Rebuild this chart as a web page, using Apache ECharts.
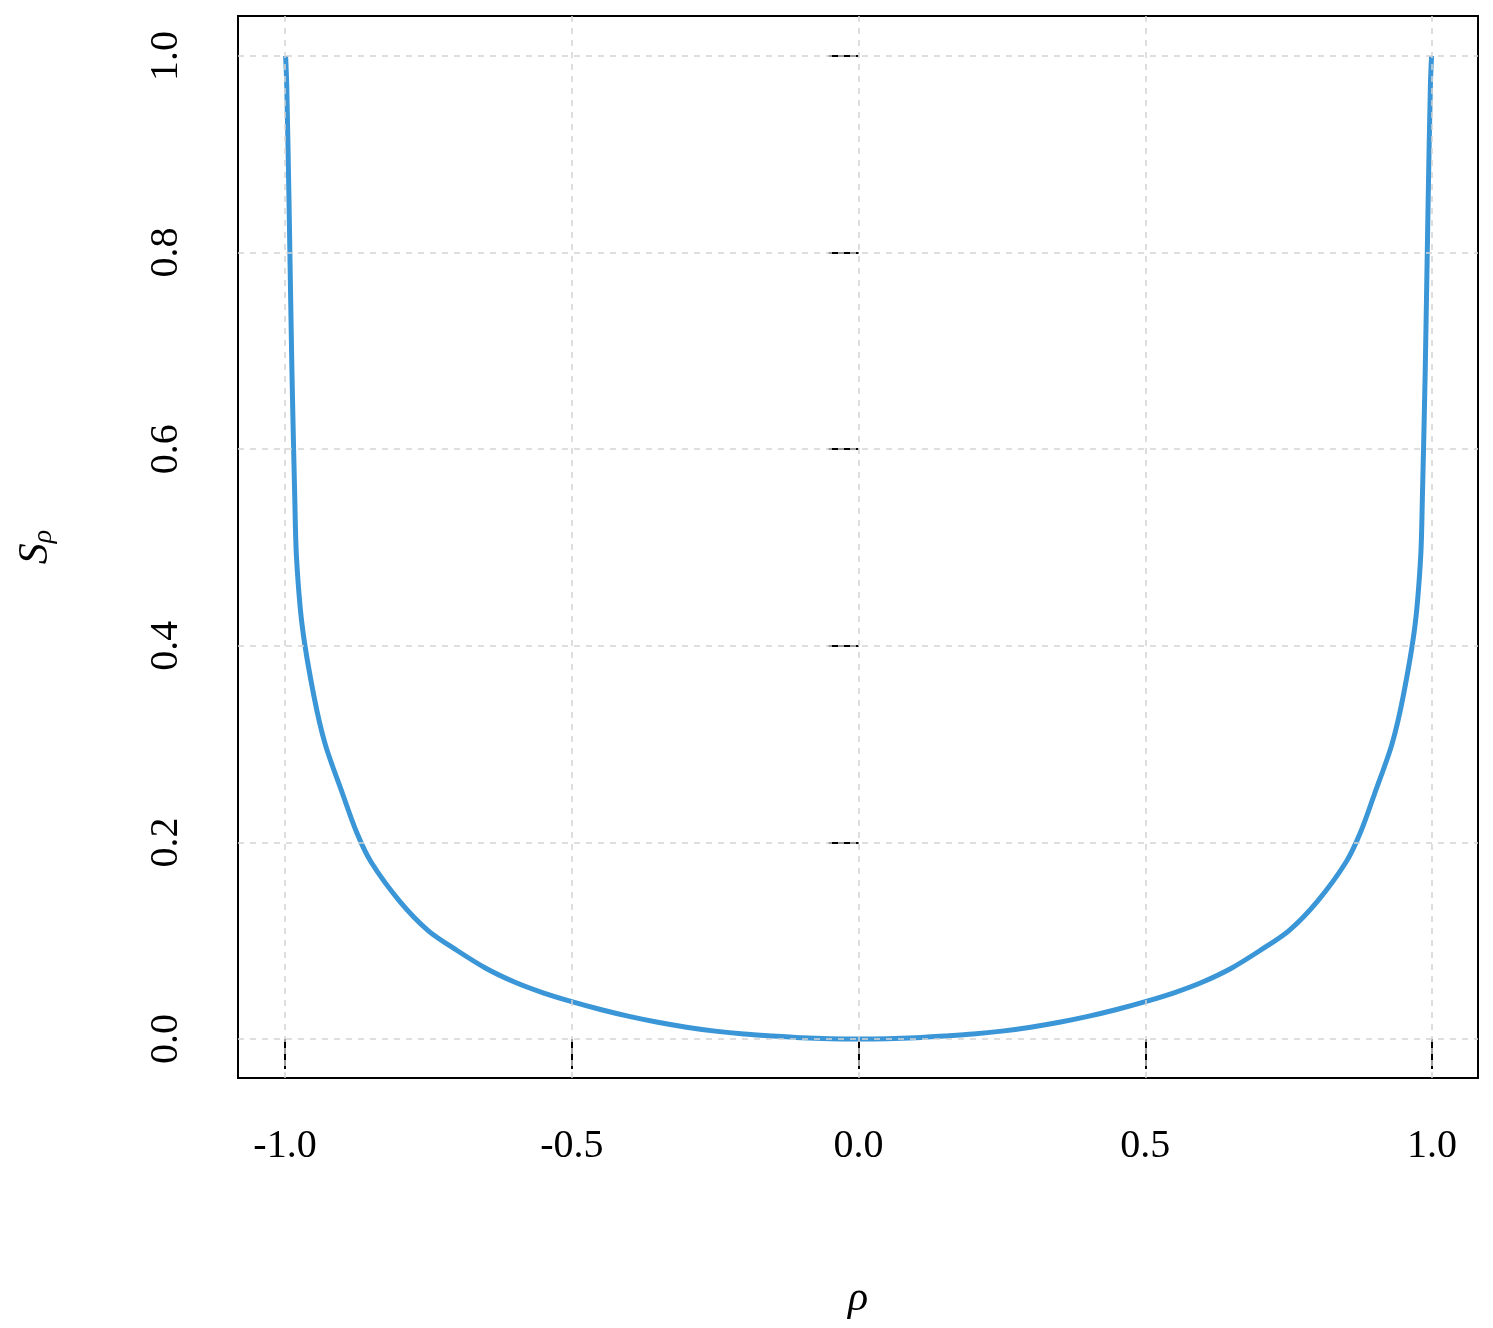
<!DOCTYPE html><html><head><meta charset="utf-8"><script src="https://cdn.jsdelivr.net/npm/echarts@6/dist/echarts.min.js"></script>
<style>html,body{margin:0;padding:0;background:#fff}#c{width:1493px;height:1328px}</style></head><body><div id="c"></div><script>
const rhoVals=[-0.999,-0.997,-0.993,-0.988,-0.983,-0.98,-0.97,-0.95,-0.93,-0.9,-0.875,-0.85,-0.8,-0.75,-0.7,-0.65,-0.6,-0.55,-0.5,-0.45,-0.4,-0.35,-0.3,-0.25,-0.2,-0.15,-0.1,-0.05,0,0.05,0.1,0.15,0.2,0.25,0.3,0.35,0.4,0.45,0.5,0.55,0.6,0.65,0.7,0.75,0.8,0.85,0.875,0.9,0.93,0.95,0.97,0.98,0.983,0.988,0.993,0.997,0.999];
const sVals=[1.0,0.97,0.85,0.68,0.55,0.49,0.42,0.35,0.3,0.25,0.21,0.18,0.14,0.11,0.09,0.072,0.058,0.047,0.038,0.03,0.023,0.017,0.012,0.008,0.005,0.003,0.0013,0.0003,0,0.0003,0.0013,0.003,0.005,0.008,0.012,0.017,0.023,0.03,0.038,0.047,0.058,0.072,0.09,0.11,0.14,0.18,0.21,0.25,0.3,0.35,0.42,0.49,0.55,0.68,0.85,0.97,1.0];
const xTicks=[-1.0,-0.5,0.0,0.5,1.0];
const yTicks=[0.0,0.2,0.4,0.6,0.8,1.0];
const font='"Liberation Serif","DejaVu Serif",serif';
const ch=echarts.init(document.getElementById('c'));
const gl={symbol:'none',silent:true,label:{show:false},lineStyle:{color:'#d3d3d3',type:[6,6],width:1.5}};
ch.setOption({animation:false,
grid:{left:238,top:16,width:1240,height:1062,show:true,borderColor:'#000',borderWidth:2,backgroundColor:'transparent'},
xAxis:{type:'value',min:-1.082,max:1.080,splitLine:{show:false},axisLine:{show:false},
 axisTick:{show:true,length:30,inside:false,customValues:xTicks,lineStyle:{color:'#000',width:2}},
 axisLabel:{customValues:xTicks,formatter:v=>v.toFixed(1),margin:48,fontSize:40,fontFamily:font,color:'#000'},
 name:'ρ',nameLocation:'middle',nameGap:200,nameTextStyle:{fontSize:42,fontFamily:font,fontStyle:'italic',color:'#000'}},
yAxis:{type:'value',min:-0.0397,max:1.0407,splitLine:{show:false},axisLine:{show:false},
 axisTick:{show:true,length:30,customValues:yTicks,lineStyle:{color:'#000',width:2}},
 axisLabel:{customValues:yTicks,formatter:v=>v.toFixed(1),rotate:90,margin:52,fontSize:40,fontFamily:font,color:'#000'},
 name:'{s|S}{r|ρ}',nameLocation:'middle',nameGap:180,nameRotate:90,
 nameTextStyle:{rich:{s:{fontSize:42,fontFamily:font,fontStyle:'italic',color:'#000'},r:{fontSize:28,fontFamily:font,fontStyle:'italic',color:'#000',verticalAlign:'bottom',padding:[16,0,0,0]}}}},
series:[{type:'line',data:rhoVals.map((r,i)=>[r,sVals[i]]),symbol:'none',smooth:0.3,lineStyle:{color:'#3a96d6',width:5},
 markLine:{...gl,data:xTicks.map(v=>({xAxis:v})).concat(yTicks.map(v=>({yAxis:v})))},z:3}]
});
</script></body></html>
